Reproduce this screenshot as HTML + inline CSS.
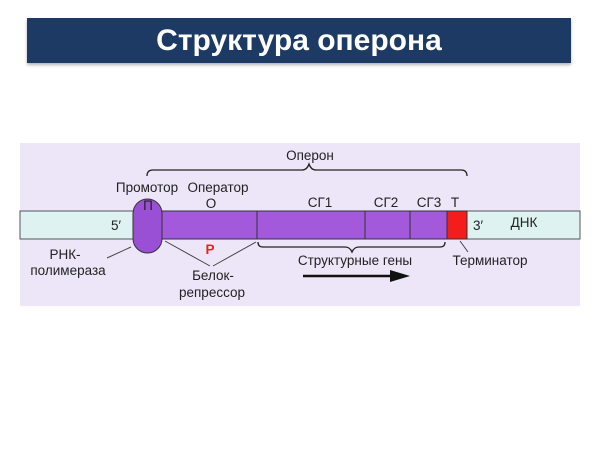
<!DOCTYPE html>
<html><head><meta charset="utf-8"><style>
body{margin:0;width:600px;height:450px;background:#fff;overflow:hidden;font-family:"Liberation Sans","DejaVu Sans",sans-serif}
.title{position:absolute;left:27px;top:18px;width:544px;height:45px;background:#1c3a63;box-shadow:0 2px 3px rgba(0,0,0,.3);color:#fff;font-size:30px;font-weight:bold;text-align:center;line-height:45px}
svg{position:absolute;left:0;top:0}
text{font-family:"Liberation Sans","DejaVu Sans",sans-serif;font-size:13.5px;fill:#222}
</style></head><body>
<div class="title">Структура оперона</div>
<svg width="600" height="450">
<rect x="20" y="143" width="560" height="163" fill="#ece6f8"/>
<rect x="20" y="211" width="560" height="28" fill="#dff2f2" stroke="#555" stroke-width="1"/>
<rect x="135" y="211" width="312" height="28" fill="#a259dc" stroke="#333" stroke-width="1"/>
<line x1="257" y1="211" x2="257" y2="239" stroke="#333"/>
<line x1="365" y1="211" x2="365" y2="239" stroke="#333"/>
<line x1="410" y1="211" x2="410" y2="239" stroke="#333"/>
<rect x="447" y="211" width="20" height="28" fill="#f51c1c" stroke="#333"/>
<rect x="133" y="199" width="29" height="54" rx="14.5" fill="#9a50d4" stroke="#333"/>
<path d="M147 176 Q147 170 153 170 L302 170 Q307 170 309 164 Q311 170 316 170 L461 170 Q467 170 467 176" fill="none" stroke="#222" stroke-width="1.3"/>
<path d="M258 242 Q258 247 263 247 L345 247 Q350 247 352 252 Q354 247 359 247 L440 247 Q445 247 445 242" fill="none" stroke="#222" stroke-width="1.3"/>
<line x1="303" y1="276" x2="393" y2="276" stroke="#111" stroke-width="2.5"/>
<polygon points="390,270 410,276 390,282" fill="#111"/>
<line x1="107" y1="258" x2="131" y2="247" stroke="#444"/>
<line x1="165" y1="241" x2="210" y2="266" stroke="#444"/>
<line x1="256" y1="242" x2="213" y2="266" stroke="#444"/>
<line x1="460" y1="241" x2="468" y2="252" stroke="#444"/>
<text x="310" y="160" text-anchor="middle">Оперон</text>
<text x="147" y="192" text-anchor="middle">Промотор</text>
<text x="218" y="192" text-anchor="middle">Оператор</text>
<text x="211" y="208" text-anchor="middle">О</text>
<text x="148" y="210" text-anchor="middle">П</text>
<text x="320" y="207" text-anchor="middle">СГ1</text>
<text x="386" y="207" text-anchor="middle">СГ2</text>
<text x="429" y="207" text-anchor="middle">СГ3</text>
<text x="455" y="207" text-anchor="middle">Т</text>
<text x="116" y="230" text-anchor="middle">5′</text>
<text x="478" y="230" text-anchor="middle">3′</text>
<text x="524" y="227" text-anchor="middle">ДНК</text>
<text x="210" y="254" text-anchor="middle" style="fill:#e8231f;font-weight:bold">Р</text>
<text x="65" y="259" text-anchor="middle">РНК-</text>
<text x="68" y="275" text-anchor="middle">полимераза</text>
<text x="213" y="280" text-anchor="middle">Белок-</text>
<text x="212" y="297" text-anchor="middle">репрессор</text>
<text x="355" y="265" text-anchor="middle">Структурные гены</text>
<text x="490" y="265" text-anchor="middle">Терминатор</text>
</svg>
</body></html>
